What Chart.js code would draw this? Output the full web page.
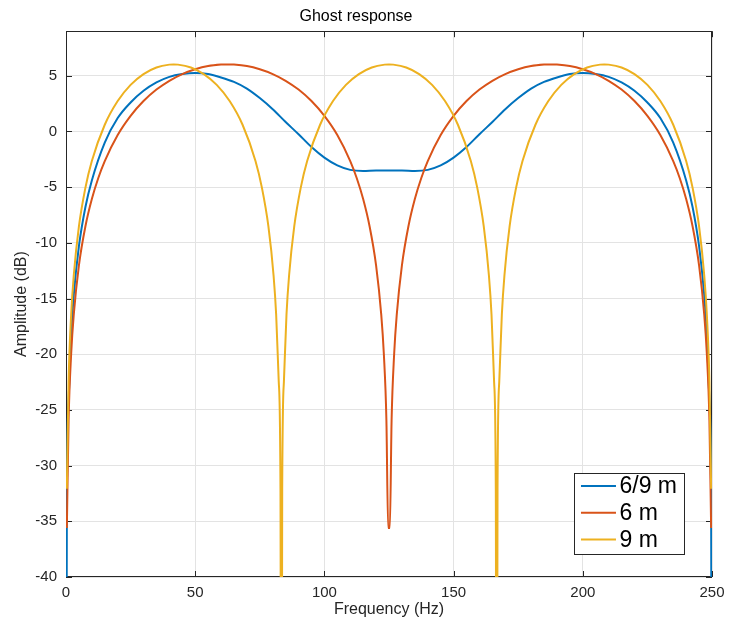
<!DOCTYPE html>
<html>
<head>
<meta charset="utf-8">
<title>Ghost response</title>
<script src="https://cdn.jsdelivr.net/npm/chart.js@4.4.1/dist/chart.umd.min.js"></script>
<style>
  html, body { margin: 0; padding: 0; background: #fff; }
  #wrap { width: 729px; height: 623px; position: relative; }
</style>
</head>
<body>
<div id="wrap"><canvas id="chart"></canvas></div>
<script>
// values (Hz, dB)
const freq69 = [0, 0.33, 1, 2, 3, 5, 7.5, 10, 15, 20, 25, 30, 35, 40, 45, 50, 55, 60, 65, 70,
  75, 80, 85, 90, 95, 100, 105, 110, 115, 120, 125, 130, 135, 140, 145, 150, 155, 160, 165, 170,
  175, 180, 185, 190, 195, 200, 205, 210, 215, 220, 225, 230, 235, 240, 242.5, 245, 247, 248, 249, 249.67, 250];
const amp69 = [-80, -33.8, -24.2, -18.2, -14.7, -10.3, -6.8, -4.4, -1.0, 1.2, 2.6, 3.65, 4.4, 4.9, 5.15, 5.25, 5.15, 4.85, 4.45, 3.85,
  3.0, 2.0, 0.85, -0.25, -1.4, -2.35, -3.05, -3.45, -3.55, -3.5, -3.5, -3.5, -3.55, -3.45, -3.05, -2.35, -1.4, -0.25, 0.85, 2.0,
  3.0, 3.85, 4.45, 4.85, 5.15, 5.25, 5.15, 4.9, 4.4, 3.65, 2.6, 1.2, -1.0, -4.4, -6.8, -10.3, -14.7, -18.2, -24.2, -33.8, -80];

const freq6 = [0.33, 1, 2, 3, 5, 7.5, 10, 12.5, 15, 20, 25, 30, 35, 40, 45, 50, 55, 60, 62.5, 65,
  70, 75, 80, 85, 90, 95, 100, 105, 110, 112.5, 115, 117.5, 120, 122, 123, 124, 124.67,
  125.33, 126, 127, 128, 130, 132.5, 135, 137.5, 140, 145, 150, 155, 160, 165, 170, 175, 180, 185,
  187.5, 190, 195, 200, 205, 210, 215, 220, 225, 230, 235, 237.5, 240, 242.5, 245, 247, 248, 249, 249.67];
const amp6 = [-35.6, -25.97, -19.96, -16.44, -12.02, -8.53, -6.07, -4.18, -2.66, -0.32, 1.40, 2.73, 3.76, 4.55, 5.15, 5.58, 5.87, 6.00, 6.02, 6.00,
  5.87, 5.58, 5.15, 4.55, 3.76, 2.73, 1.40, -0.32, -2.66, -4.18, -6.07, -8.53, -12.02, -16.44, -19.96, -25.97, -35.6,
  -35.6, -25.97, -19.96, -16.44, -12.02, -8.53, -6.07, -4.18, -2.66, -0.32, 1.40, 2.73, 3.76, 4.55, 5.15, 5.58, 5.87, 6.00,
  6.02, 6.00, 5.87, 5.58, 5.15, 4.55, 3.76, 2.73, 1.40, -0.32, -2.66, -4.18, -6.07, -8.53, -12.02, -16.44, -19.96, -25.97, -35.6];

const freq9 = [0.33, 1, 2, 3, 5, 7.5, 10, 15, 20, 25, 30, 35, 40, 41.67, 43.33, 48.33, 53.33, 58.33, 63.33, 68.33,
  73.33, 75.83, 78.33, 80.33, 81.33, 82.33, 83, 83.33,
  83.67, 84.33, 85.33, 86.33, 88.33, 90.83, 93.33, 98.33, 103.33, 108.33, 113.33, 118.33, 123.33, 125, 126.67, 131.67,
  136.67, 141.67, 146.67, 151.67, 156.67, 159.17, 161.67, 163.67, 164.67, 165.67, 166.33, 166.67,
  167, 167.67, 168.67, 169.67, 171.67, 174.17, 176.67, 181.67, 186.67, 191.67, 196.67, 201.67, 206.67, 208.33, 210,
  215, 220, 225, 230, 235, 240, 242.5, 245, 247, 248, 249, 249.67];
const amp9 = [-32.08, -22.46, -16.44, -12.93, -8.53, -5.07, -2.66, 0.60, 2.73, 4.18, 5.15, 5.74, 6.00, 6.02, 6.00, 5.74, 5.15, 4.18, 2.73, 0.60,
  -2.66, -5.07, -8.53, -12.93, -16.44, -22.46, -32.08, -80,
  -32.08, -22.46, -16.44, -12.93, -8.53, -5.07, -2.66, 0.60, 2.73, 4.18, 5.15, 5.74, 6.00, 6.02, 6.00, 5.74,
  5.15, 4.18, 2.73, 0.60, -2.66, -5.07, -8.53, -12.93, -16.44, -22.46, -32.08, -80,
  -32.08, -22.46, -16.44, -12.93, -8.53, -5.07, -2.66, 0.60, 2.73, 4.18, 5.15, 5.74, 6.00, 6.02, 6.00,
  5.74, 5.15, 4.18, 2.73, 0.60, -2.66, -5.07, -8.53, -12.93, -16.44, -22.46, -32.08];

const seriesNames = ['6/9 m', '6 m', '9 m'];
const seriesColors = ['#0072BD', '#D95319', '#EDB120'];

const FONT = '"Liberation Sans", Arial, Helvetica, sans-serif';
const AXIS = '#262626';

function pts(xs, ys) {
  return xs.map((f, i) => ({ x: f, y: ys[i] }));
}

// axes box + inward ticks, drawn under the lines like matlab's default layer
const axesBox = {
  id: 'axesBox',
  beforeDatasetsDraw(chart) {
    const { ctx, chartArea: a, scales: { x, y } } = chart;
    ctx.save();
    ctx.strokeStyle = AXIS;
    ctx.lineWidth = 1;
    ctx.beginPath();
    x.ticks.forEach(t => {
      const px = Math.round(x.getPixelForValue(t.value)) + 0.5;
      ctx.moveTo(px, a.bottom); ctx.lineTo(px, a.bottom - 6);
      ctx.moveTo(px, a.top); ctx.lineTo(px, a.top + 6);
    });
    y.ticks.forEach(t => {
      const py = Math.round(y.getPixelForValue(t.value)) + 0.5;
      ctx.moveTo(a.left, py); ctx.lineTo(a.left + 6, py);
      ctx.moveTo(a.right, py); ctx.lineTo(a.right - 6, py);
    });
    ctx.stroke();
    ctx.strokeRect(Math.round(a.left) + 0.5, Math.round(a.top) + 0.5,
      Math.round(a.width) - 1, Math.round(a.height) - 1);
    ctx.restore();
  }
};

// boxed legend in the lower right corner of the axes
const boxLegend = {
  id: 'boxLegend',
  afterDraw(chart) {
    const { ctx, chartArea: a } = chart;
    const sets = chart.data.datasets;
    ctx.save();
    ctx.font = '23px ' + FONT;
    const textW = Math.max(...sets.map(d => ctx.measureText(d.label).width));
    const rowH = 26.7, lineLen = 35;
    const w = 7 + lineLen + 3.5 + textW + 7;
    const h = sets.length * rowH + 0.5;
    const right = a.right - 28, bottom = a.bottom - 23;
    const left = right - w, top = bottom - h;
    ctx.fillStyle = '#fff';
    ctx.fillRect(left, top, w, h);
    ctx.strokeStyle = AXIS;
    ctx.lineWidth = 1;
    ctx.strokeRect(Math.round(left) + 0.5, Math.round(top) + 0.5, Math.round(w), Math.round(h));
    sets.forEach((d, i) => {
      const cy = top + 12.7 + i * rowH;
      ctx.strokeStyle = d.borderColor;
      ctx.lineWidth = 2;
      ctx.beginPath();
      ctx.moveTo(left + 7, cy);
      ctx.lineTo(left + 7 + lineLen, cy);
      ctx.stroke();
      ctx.fillStyle = '#000';
      ctx.textBaseline = 'middle';
      ctx.fillText(d.label, left + 7 + lineLen + 3.5, cy + 1);
    });
    ctx.restore();
  }
};

const freqs = [freq69, freq6, freq9];
const amps = [amp69, amp6, amp9];

new Chart(document.getElementById('chart'), {
  type: 'line',
  data: {
    datasets: seriesNames.map((name, i) => ({
      label: name,
      data: pts(freqs[i], amps[i]),
      borderColor: seriesColors[i],
      backgroundColor: seriesColors[i],
      borderWidth: 2,
      pointRadius: 0,
      cubicInterpolationMode: 'monotone',
      order: 3 - i
    }))
  },
  options: {
    responsive: true,
    maintainAspectRatio: false,
    animation: false,
    devicePixelRatio: 1,
    layout: { padding: { left: 0, right: 17, top: 0, bottom: 0 } },
    plugins: {
      legend: { display: false },
      tooltip: { enabled: false },
      title: {
        display: true,
        text: 'Ghost response',
        color: '#000',
        font: { family: FONT, size: 16, weight: 'normal' },
        padding: { top: 7, bottom: 5 }
      }
    },
    scales: {
      x: {
        type: 'linear',
        min: 0,
        max: 250,
        ticks: { stepSize: 50, color: AXIS, font: { family: FONT, size: 15 }, padding: 7, maxRotation: 0 },
        grid: { color: '#e3e3e3', drawTicks: false },
        border: { display: false },
        title: { display: true, text: 'Frequency (Hz)', color: AXIS, font: { family: FONT, size: 16 }, padding: { top: 0, bottom: 4 } },
        afterFit(s) { s.height = 46; s.paddingLeft = 0; s.paddingRight = 0; }
      },
      y: {
        min: -40,
        max: 9,
        ticks: { stepSize: 5, includeBounds: false, color: AXIS, font: { family: FONT, size: 15 }, padding: 9 },
        grid: { color: '#e3e3e3', drawTicks: false },
        border: { display: false },
        title: { display: true, text: 'Amplitude (dB)', color: AXIS, font: { family: FONT, size: 16 }, padding: { top: 12, bottom: 0 } },
        afterFit(s) { s.width = 66; s.paddingTop = 0; s.paddingBottom = 0; }
      }
    }
  },
  plugins: [axesBox, boxLegend]
});
</script>
</body>
</html>
